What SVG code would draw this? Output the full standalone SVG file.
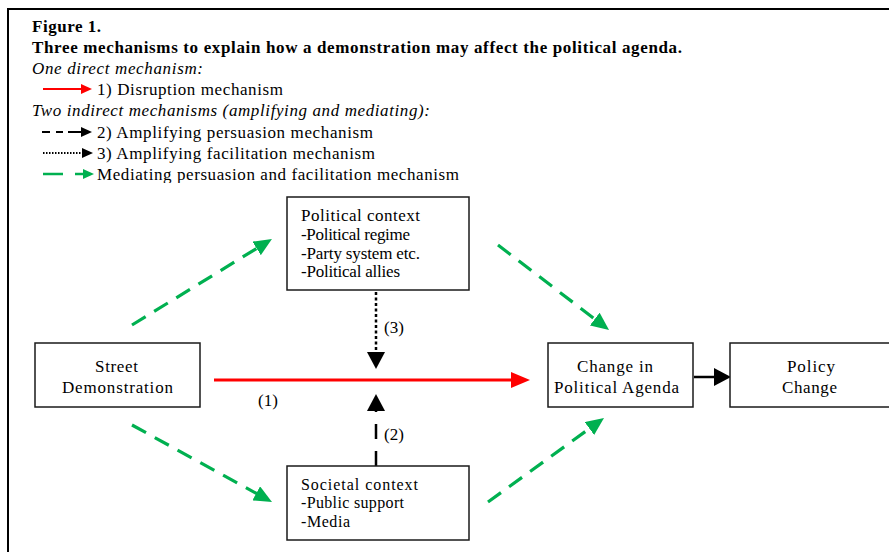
<svg xmlns="http://www.w3.org/2000/svg" width="889" height="552" viewBox="0 0 889 552">
<style>
text{font-family:"Liberation Serif","Times New Roman",serif;font-size:17px;fill:#000}
.b{font-weight:bold}
.i{font-style:italic}
.s{font-size:16px}
.box{fill:#fff;stroke:#1a1a1a;stroke-width:1.5}
.g{fill:none;stroke:#00b050;stroke-width:3.2;stroke-dasharray:16 10}
.red{fill:none;stroke:#ff0000;stroke-width:3}
.blk{fill:none;stroke:#000;stroke-width:2.5}
</style>
<defs>
<marker id="mg" viewBox="0 0 18 16" refX="9" refY="8" markerWidth="18" markerHeight="16" markerUnits="userSpaceOnUse" orient="auto"><path d="M0,0 L18,8 L0,16 z" fill="#00b050"/></marker>
<marker id="mr" viewBox="0 0 19 16" refX="2" refY="8" markerWidth="19" markerHeight="16" markerUnits="userSpaceOnUse" orient="auto"><path d="M0,0 L19,8 L0,16 z" fill="#ff0000"/></marker>
<marker id="mb" viewBox="0 0 17 18" refX="2" refY="9" markerWidth="17" markerHeight="18" markerUnits="userSpaceOnUse" orient="auto"><path d="M0,0 L17,9 L0,18 z" fill="#000"/></marker>
<marker id="lr" viewBox="0 0 11 10" refX="1" refY="5" markerWidth="11" markerHeight="10" markerUnits="userSpaceOnUse" orient="auto"><path d="M0,0 L11,5 L0,10 z" fill="#ff0000"/></marker>
<marker id="lb" viewBox="0 0 11 10" refX="1" refY="5" markerWidth="11" markerHeight="10" markerUnits="userSpaceOnUse" orient="auto"><path d="M0,0 L11,5 L0,10 z" fill="#000"/></marker>
<marker id="lg" viewBox="0 0 11 10" refX="1" refY="5" markerWidth="11" markerHeight="10" markerUnits="userSpaceOnUse" orient="auto"><path d="M0,0 L11,5 L0,10 z" fill="#00b050"/></marker>
<clipPath id="clipLeg"><rect x="0" y="0" width="889" height="183"/></clipPath>
</defs>
<rect width="889" height="552" fill="#fff"/>
<path d="M8,552 L8,9 L889,9" fill="none" stroke="#000" stroke-width="2"/>

<g id="legend">
<text class="b" x="32" y="32" textLength="69" lengthAdjust="spacing">Figure 1.</text>
<text class="b" x="32" y="53" textLength="650" lengthAdjust="spacing">Three mechanisms to explain how a demonstration may affect the political agenda.</text>
<text class="i" x="32" y="74" textLength="171" lengthAdjust="spacing">One direct mechanism:</text>
<line x1="43" y1="89" x2="82" y2="89" stroke="#ff0000" stroke-width="2" marker-end="url(#lr)"/>
<text x="97" y="95" textLength="186" lengthAdjust="spacing">1) Disruption mechanism</text>
<text class="i" x="32" y="116" textLength="398" lengthAdjust="spacing">Two indirect mechanisms (amplifying and mediating):</text>
<path d="M42,132 H50 M56,132 H63 M68,132 H82" stroke="#000" stroke-width="2"/>
<line x1="81" y1="132" x2="82" y2="132" stroke="#000" stroke-width="2" marker-end="url(#lb)"/>
<text x="97" y="138" textLength="276" lengthAdjust="spacing">2) Amplifying persuasion mechanism</text>
<line x1="43" y1="153" x2="83" y2="153" stroke="#000" stroke-width="2" stroke-dasharray="1.5 1.5" marker-end="url(#lb)"/>
<text x="97" y="159" textLength="278" lengthAdjust="spacing">3) Amplifying facilitation mechanism</text>
<path d="M43,174 H63 M75,174 H84" stroke="#00b050" stroke-width="2.5"/>
<line x1="83" y1="174" x2="84" y2="174" stroke="#00b050" stroke-width="2" marker-end="url(#lg)"/>
<text x="97" y="180" textLength="362" lengthAdjust="spacing" clip-path="url(#clipLeg)">Mediating persuasion and facilitation mechanism</text>
</g>

<g id="connectors">
<line class="g" x1="132" y1="325" x2="264.3" y2="243.7" marker-end="url(#mg)"/>
<line class="g" x1="132" y1="425" x2="264.1" y2="497.7" marker-end="url(#mg)"/>
<line class="g" x1="498" y1="245" x2="601.9" y2="324.5" marker-end="url(#mg)"/>
<line class="g" x1="488" y1="502" x2="596.7" y2="423.3" marker-end="url(#mg)"/>
<line class="red" x1="214" y1="380" x2="513" y2="380" marker-end="url(#mr)"/>
<line class="blk" x1="376" y1="292" x2="376" y2="354" stroke-width="3" stroke-dasharray="3 2.5" marker-end="url(#mb)"/>
<line class="blk" x1="376" y1="466" x2="376" y2="409" stroke-width="3" stroke-dasharray="15 12" marker-end="url(#mb)"/>
<line class="blk" x1="694" y1="377" x2="716" y2="377" marker-end="url(#mb)"/>
<text x="258" y="406" textLength="20" lengthAdjust="spacing">(1)</text>
<text x="384" y="333" textLength="20" lengthAdjust="spacing">(3)</text>
<text x="384" y="440" textLength="20" lengthAdjust="spacing">(2)</text>
</g>

<g id="political-context">
<rect class="box" x="287" y="197" width="182" height="93"/>
<text x="301" y="221" textLength="119" lengthAdjust="spacing">Political context</text>
<text x="301" y="240" textLength="109" lengthAdjust="spacing">-Political regime</text>
<text x="301" y="259" textLength="119" lengthAdjust="spacing">-Party system etc.</text>
<text x="301" y="277" textLength="99" lengthAdjust="spacing">-Political allies</text>
</g>

<g id="street-demonstration">
<rect class="box" x="35" y="343" width="165" height="64"/>
<text x="95" y="372" textLength="43" lengthAdjust="spacing">Street</text>
<text x="62" y="393" textLength="111" lengthAdjust="spacing">Demonstration</text>
</g>

<g id="societal-context">
<rect class="box" x="287" y="466" width="182" height="74"/>
<text class="s" x="301" y="490" textLength="117" lengthAdjust="spacing">Societal context</text>
<text class="s" x="301" y="508" textLength="103" lengthAdjust="spacing">-Public support</text>
<text class="s" x="301" y="527" textLength="49" lengthAdjust="spacing">-Media</text>
</g>

<g id="change-agenda">
<rect class="box" x="548" y="343" width="145" height="64"/>
<text x="577" y="372" textLength="76" lengthAdjust="spacing">Change in</text>
<text x="554" y="393" textLength="125" lengthAdjust="spacing">Political Agenda</text>
</g>

<g id="policy-change">
<rect class="box" x="730" y="343" width="170" height="64"/>
<text x="787" y="372" textLength="48" lengthAdjust="spacing">Policy</text>
<text x="782" y="393" textLength="55" lengthAdjust="spacing">Change</text>
</g>
</svg>
